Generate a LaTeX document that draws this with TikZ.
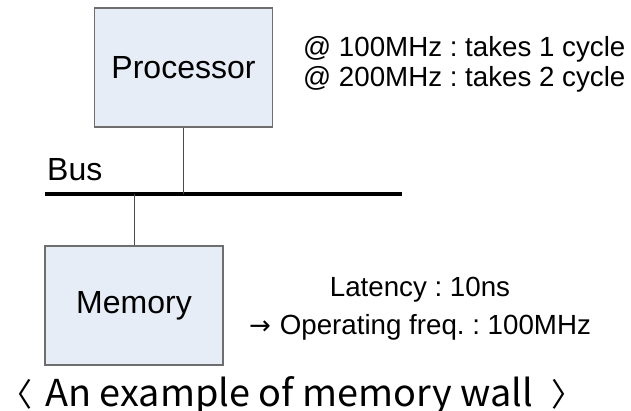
\documentclass[tikz,border=0pt]{standalone}
\usepackage{fontspec}
\setmainfont{Liberation Sans}
\newfontfamily\jpfont{Noto Sans CJK JP}
\newfontfamily\arrowfont{DejaVu Sans}
\definecolor{boxfill}{HTML}{E6EDF7}
\definecolor{boxline}{HTML}{6E6E6E}
\definecolor{stemline}{HTML}{4A4A4A}
\frenchspacing
\begin{document}
\begin{tikzpicture}[x=1pt,y=1pt,
  unitbox/.style={draw=boxline,line width=1.2pt,fill=boxfill,minimum width=178pt,minimum height=119pt,inner sep=0pt,font=\fontsize{32}{36}\selectfont},
  bigtxt/.style={inner sep=0pt,font=\fontsize{32}{36}\selectfont},
  smalltxt/.style={inner sep=0pt,font=\frenchspacing\fontsize{27.7}{32}\selectfont},
  captxt/.style={inner sep=0pt,font=\jpfont\fontsize{32}{36}\selectfont},
  stem/.style={draw=stemline,line width=1pt},
  busline/.style={draw=black,line width=3.5pt}]
\useasboundingbox (0,0) rectangle (631,411);
\node[unitbox] (proc) at (183.5,343.5) {Processor};
\node[unitbox] (mem) at (134,105.5) {Memory};
\coordinate (busL) at (45,217);
\coordinate (busR) at (402,217);
\draw[busline] (busL) -- (busR);
\node[bigtxt,anchor=base west] (buslbl) at (47,230) {Bus};
\draw[stem] (proc) -- (proc |- busL);
\draw[stem] (mem) -- (mem |- busL);
\node[smalltxt,anchor=base west] (t1) at (303,354) {@ 100MHz : takes 1 cycle};
\node[smalltxt,anchor=base west] (t2) at (303,324) {@ 200MHz : takes 2 cycle};
\node[smalltxt,anchor=base] (l1) at (420,114) {Latency : 10ns};
\node[smalltxt,anchor=base] (l2) at (420,76) {{\arrowfont\fontsize{26}{30}\selectfont →}\hspace{9pt}Operating freq. : 100MHz};
\node[captxt,anchor=base west] (capL) at (0,4) {〈};
\node[captxt,anchor=base west] (cap) at (45,4) {\resizebox{488pt}{30pt}{An example of memory wall}};
\node[captxt,anchor=base east] (capR) at (584,4) {〉};
\end{tikzpicture}
\end{document}
